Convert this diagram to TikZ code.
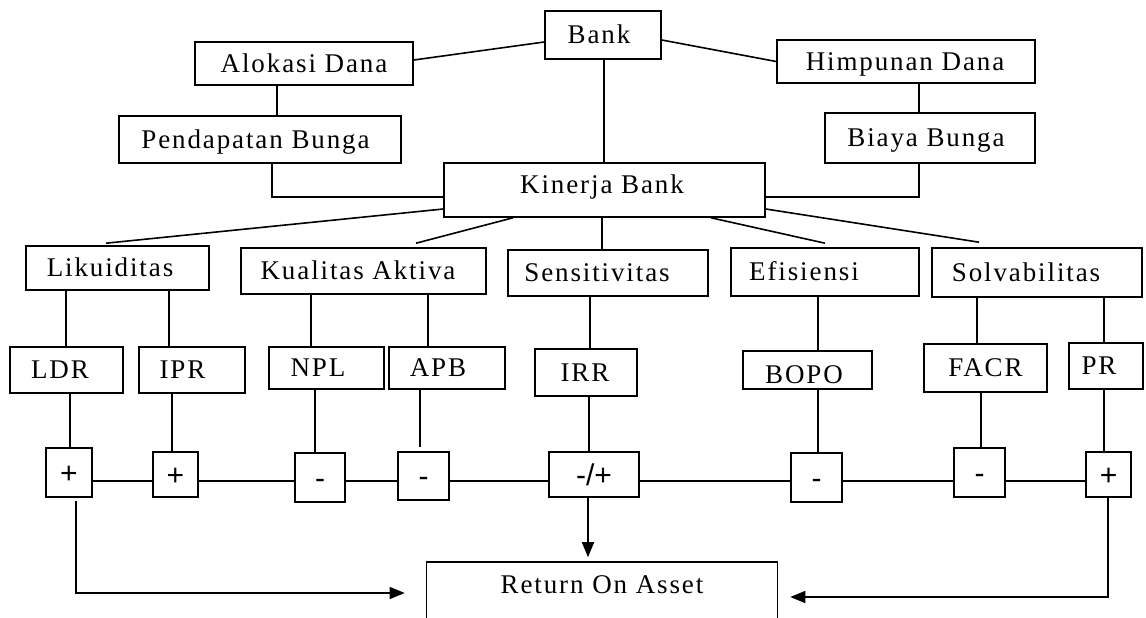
\documentclass[tikz,border=0pt]{standalone}
\usepackage{fontspec}
\setmainfont{Liberation Serif}[LetterSpace=7]
\newfontfamily\signfont{Liberation Sans}
\usetikzlibrary{arrows.meta,calc}
\tikzset{
  box/.style={draw, line width=1.6pt, inner sep=0pt, font=\fontsize{27}{31}\selectfont, text height=17.6pt, text depth=0pt},
  sgn/.style={draw, line width=1.6pt, inner sep=0pt, font=\signfont\fontsize{30}{34}\selectfont, text height=21pt, text depth=0pt},
  conn/.style={line width=1.6pt},
  arr/.style={conn, -{Triangle[length=15pt,width=12pt]}},
  tshift/.style={execute at begin node={\hspace*{2\dimexpr#1pt\relax}}},
  wh/.style 2 args={minimum width=#1pt, minimum height=#2pt}
}
\begin{document}
\begin{tikzpicture}[x=1pt,y=-1pt]
\useasboundingbox (0,0) rectangle (1146,618);
\fill[white] (0,0) rectangle (1146,618);
\clip (0,0) rectangle (1146,618);
% top level
\node[box, wh={116}{48}, tshift=-4] (bank) at (603,35) {Bank};
\node[box, wh={218}{43}] (alok) at (304,63.5) {Alokasi Dana};
\node[box, wh={282}{47}, tshift=-4.5] (pend) at (260,139.5) {Pendapatan Bunga};
\node[box, wh={258}{43}, tshift=-1] (himp) at (906,61.5) {Himpunan Dana};
\node[box, wh={210}{50}, tshift=-4] (biaya) at (930,138) {Biaya Bunga};
\node[box, wh={321}{54}, tshift=-2.5, text depth=10pt] (kin) at (604.5,190) {Kinerja Bank};
% categories
\node[box, wh={183}{44}, tshift=-7.5] (lik) at (117.5,268) {Likuiditas};
\node[box, wh={245}{46}, tshift=-5.5] (kual) at (363.5,271) {Kualitas Aktiva};
\node[box, wh={200}{46}, tshift=-11] (sens) at (608,273) {Sensitivitas};
\node[box, wh={188}{48}, tshift=-21] (efi) at (825,272) {Efisiensi};
\node[box, wh={210}{49}, tshift=-11] (solv) at (1037,272.5) {Solvabilitas};
% ratios
\node[box, wh={113}{46}, tshift=-6.5] (ldr) at (66.5,370) {LDR};
\node[box, wh={106}{46}, tshift=-9.5] (ipr) at (192,370) {IPR};
\node[box, wh={115}{42}, tshift=-8.5] (npl) at (326.5,368) {NPL};
\node[box, wh={116}{42}, tshift=-9] (apb) at (447,368) {APB};
\node[box, wh={102}{47}, tshift=-1] (irr) at (586,372.5) {IRR};
\node[box, wh={129}{38}, tshift=-3.5, text height=27.6pt] (bopo) at (807.5,370) {BOPO};
\node[box, wh={123}{48}] (facr) at (985.5,368) {FACR};
\node[box, wh={74}{46}, tshift=-7] (pr) at (1106,366) {PR};
% signs
\node[sgn, wh={46}{49}] (s1) at (69,472.5) {+};
\node[sgn, wh={45}{45}] (s2) at (175.5,474.5) {+};
\node[sgn, wh={50}{49}] (s3) at (320,477.5) {-};
\node[sgn, wh={51}{48}] (s4) at (423.5,476) {-};
\node[sgn, wh={90}{45}] (s5) at (594,474.5) {-/+};
\node[sgn, wh={51}{49}] (s6) at (816.5,477.5) {-};
\node[sgn, wh={51}{49}] (s7) at (979.5,472.5) {-};
\node[sgn, wh={45}{45}] (s8) at (1108.5,474.5) {+};
% result
\node[box, minimum width=351pt, text height=31pt, text depth=45pt] (roa) at (602,600) {Return On Asset};
\coordinate (hl) at (0,481);
% connectors top
\draw[conn] ($(alok.east)+(0,-3.5)$) -- ($(bank.west)+(0,7)$);
\draw[conn] ($(bank.east)+(0,5)$) -- (himp.west);
\draw[conn] ($(bank.south)+(1,0)$) -- ($(kin.north)+(-0.5,0)$);
\draw[conn] ($(alok.south)+(-27,0)$) -- ($(pend.north)+(17,0)$);
\draw[conn] ($(pend.south)+(12,0)$) |- ($(kin.west)+(0,7)$);
\draw[conn] ($(himp.south)+(13,0)$) -- ($(biaya.north)+(-11,0)$);
\draw[conn] ($(biaya.south)+(-11,0)$) |- ($(kin.east)+(0,7)$);
% to categories
\draw[conn] ($(kin.west)+(0,19)$) -- ($(lik.north)+(-11.5,-2)$);
\draw[conn] ($(kin.south)+(-91.5,0)$) -- ($(kual.north)+(52.5,-4)$);
\draw[conn] ($(kin.south)+(-2.5,0)$) -- ($(sens.north)+(-6,0)$);
\draw[conn] ($(kin.south)+(106.5,0)$) -- ($(efi.north)+(0,-4)$);
\draw[conn] ($(kin.east)+(0,19)$) -- ($(solv.north)+(-58,-5)$);
% to ratios
\draw[conn] ($(lik.south)+(-51.5,0)$) -- ($(ldr.north)+(-0.5,0)$);
\draw[conn] ($(lik.south)+(51.5,0)$) -- ($(ipr.north)+(-23,0)$);
\draw[conn] ($(kual.south)+(-52.5,0)$) -- ($(npl.north)+(-15.5,0)$);
\draw[conn] ($(kual.south)+(64.5,0)$) -- ($(apb.north)+(-19,0)$);
\draw[conn] ($(sens.south)+(-18,0)$) -- ($(irr.north)+(4,0)$);
\draw[conn] ($(efi.south)+(-7,0)$) -- ($(bopo.north)+(10.5,0)$);
\draw[conn] ($(solv.south)+(-60,0)$) -- ($(facr.north)+(-8.5,0)$);
\draw[conn] ($(solv.south)+(67,0)$) -- ($(pr.north)+(-2,0)$);
% to signs
\draw[conn] ($(ldr.south)+(3.5,0)$) -- ($(s1.north)+(1,0)$);
\draw[conn] ($(ipr.south)+(-20,0)$) -- ($(s2.north)+(-3.5,0)$);
\draw[conn] ($(npl.south)+(-11.5,0)$) -- ($(s3.north)+(-5,0)$);
\draw[conn] ($(apb.south)+(-27,0)$) -- ($(s4.north)+(-3.5,-4)$);
\draw[conn] ($(irr.south)+(3,0)$) -- ($(s5.north)+(-5,0)$);
\draw[conn] ($(bopo.south)+(10.5,0)$) -- ($(s6.north)+(1.5,0)$);
\draw[conn] ($(facr.south)+(-4.5,0)$) -- ($(s7.north)+(1.5,0)$);
\draw[conn] ($(pr.south)+(-2,0)$) -- ($(s8.north)+(-4.5,0)$);
% horizontal chain
\foreach \a/\b in {s1/s2,s2/s3,s3/s4,s4/s5,s5/s6,s6/s7,s7/s8}
  \draw[conn] (\a.east |- hl) -- (\b.west |- hl);
% arrows to ROA
\draw[arr] ($(s1.south)+(7,3)$) |- ($(roa.west)+(-21,-7)$);
\draw[arr] ($(s5.south)+(-6,0)$) -- ($(roa.north)+(-14,-4)$);
\draw[arr] ($(s8.south)+(-0.5,0)$) |- ($(roa.east)+(12,-3)$);
\end{tikzpicture}
\end{document}
